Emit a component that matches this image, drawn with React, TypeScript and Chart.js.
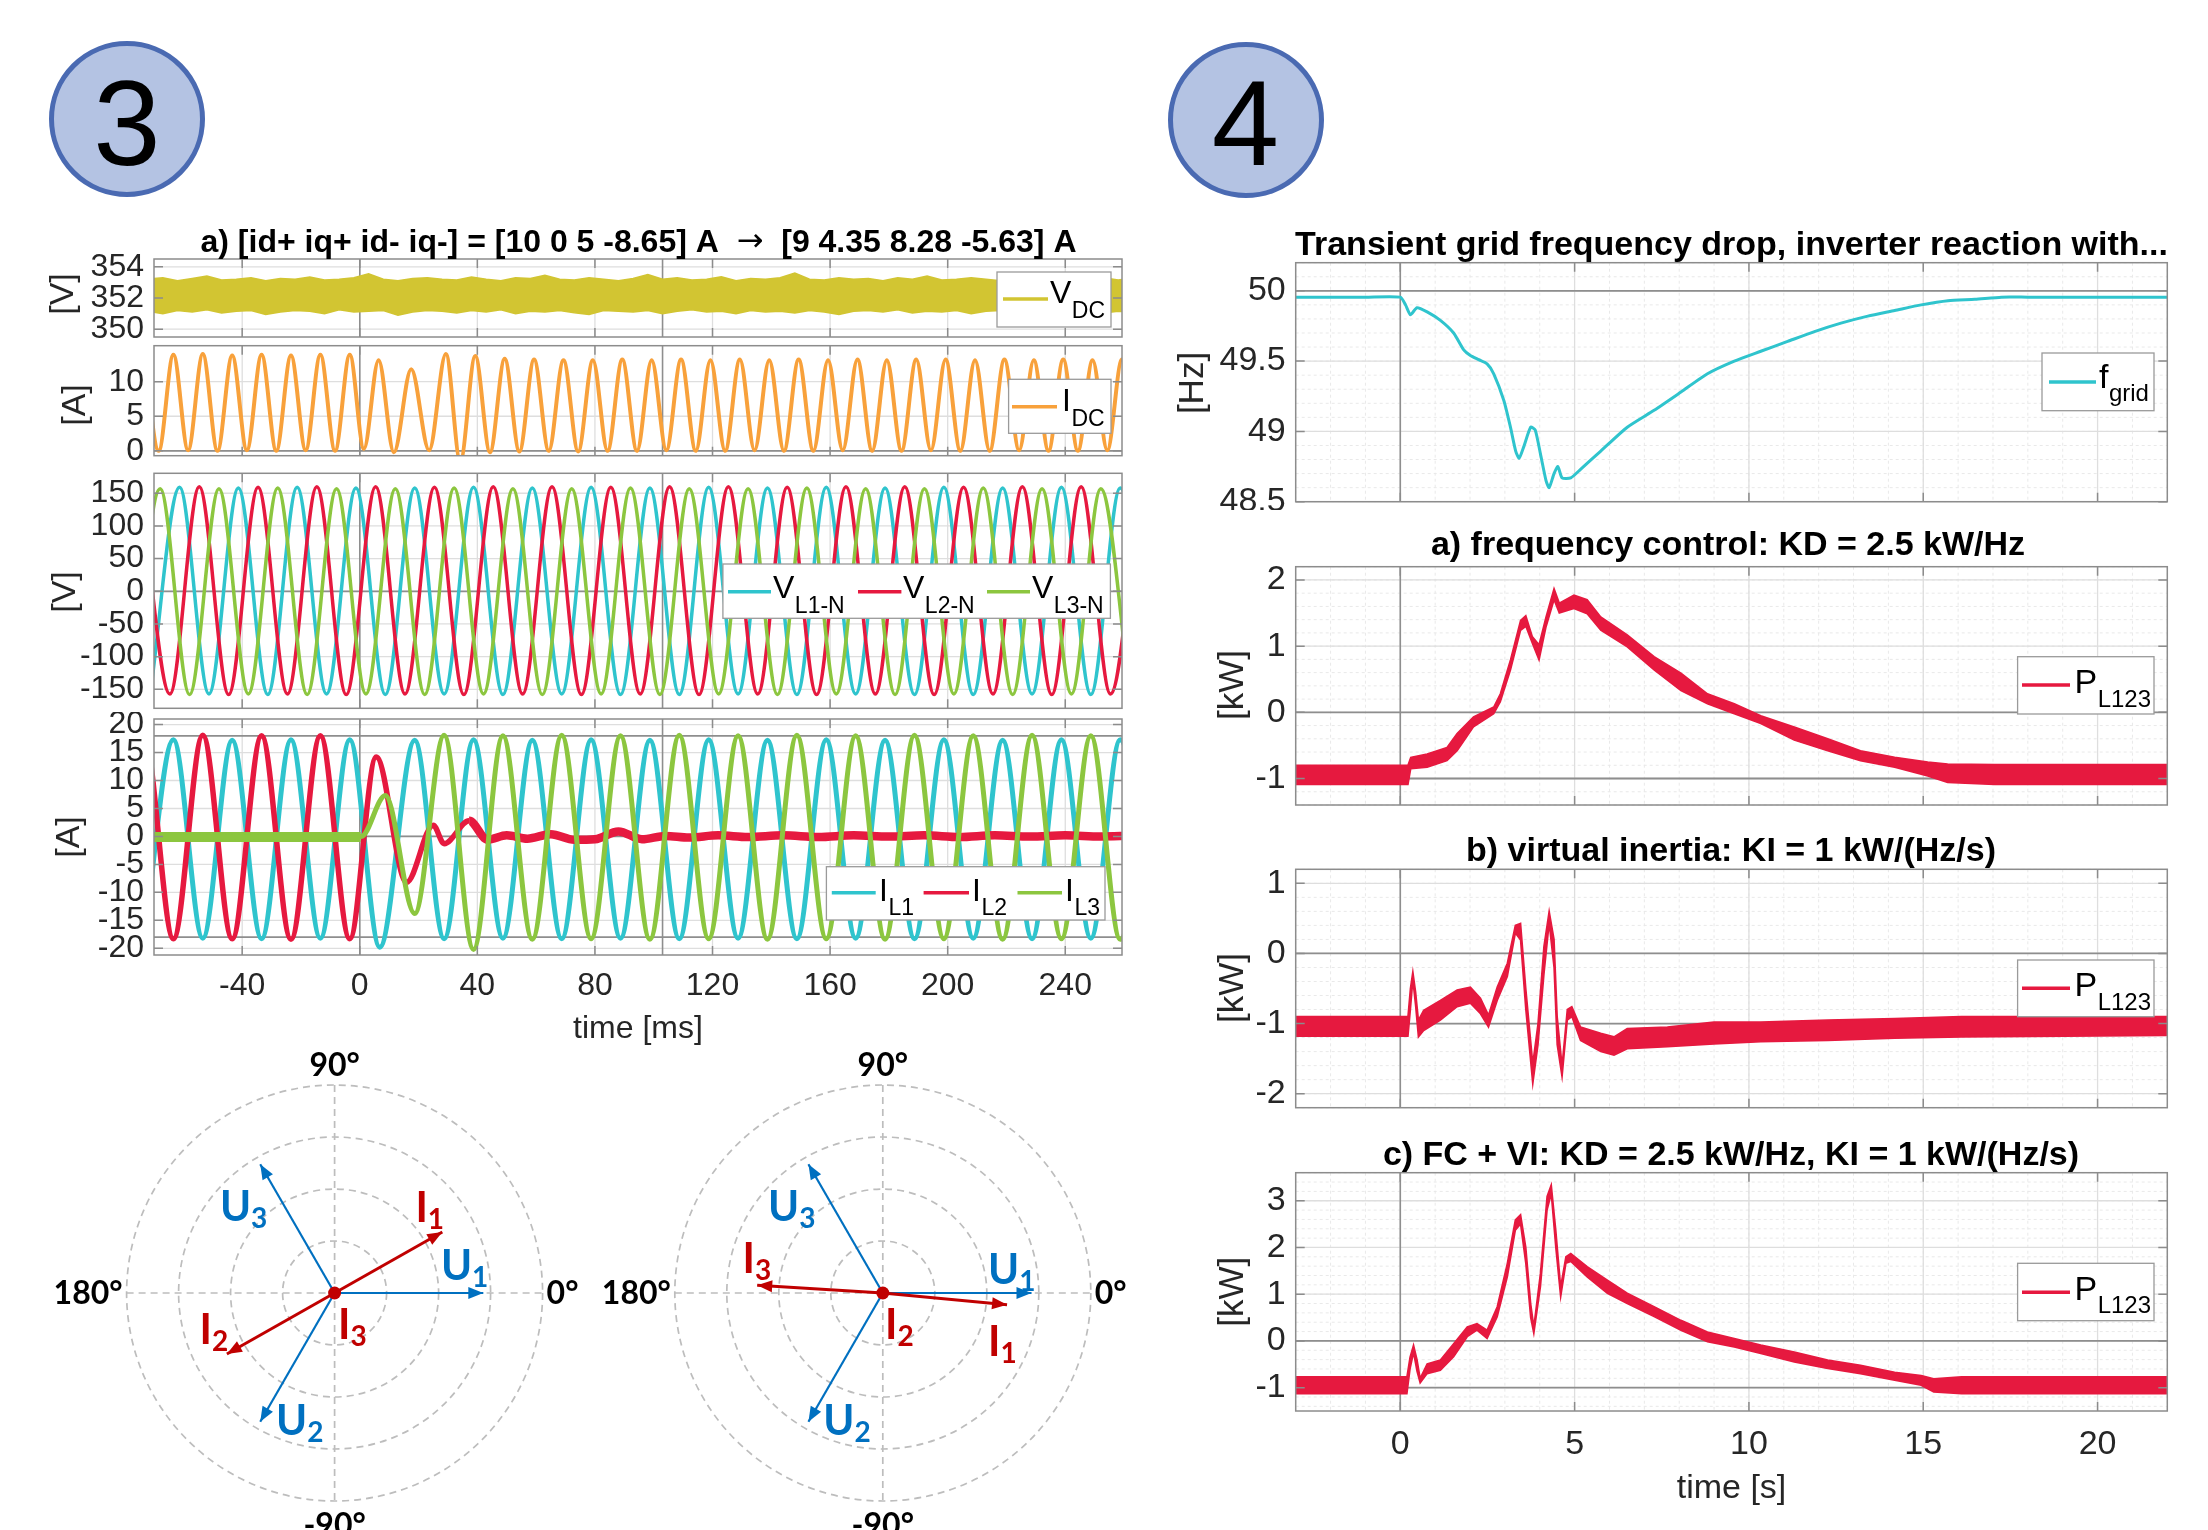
import React, { useEffect, useRef } from "react";
import { Chart, registerables } from "chart.js";

Chart.register(...registerables);

// ---------------- fonts / colours ----------------
const SANS = '"Liberation Sans", Arial, Helvetica, sans-serif';
const ARROW_FONT = '"DejaVu Sans", sans-serif';
const PPT = 'Lato, "Open Sans", "Liberation Sans", sans-serif';
const CYAN = "#2fc4cd";
const RED = "#e6193f";
const GREEN = "#8cc63f";
const OLIVE = "#d2c532";
const ORANGE = "#f8a13b";
const BLUE_U = "#0070c0";
const RED_I = "#c00000";
const TICK_CLR = "#262626";
const BOX_CLR = "#8c8c8c";

// =====================================================================
// DATA — panel 3 (time in ms)
// =====================================================================
const leftTitleParts = ["a) [id+ iq+ id- iq-] = [10 0 5 -8.65] A  ", "\u2192", "  [9 4.35 8.28 -5.63] A"];
const msTicks = [-40, 0, 40, 80, 120, 160, 200, 240];
const vdcTicks = [350, 352, 354];
const idcTicks = [0, 5, 10];
const vTicks = [-150, -100, -50, 0, 50, 100, 150];
const iTicks = [-20, -15, -10, -5, 0, 5, 10, 15, 20];

// V_DC noisy band: upper / lower envelope, sampled every 5 ms from -72 ms
const vdcStartMs = -72;
const vdcStepMs = 5;
const vdcUpper = [
  353.2, 353.3, 353.1, 353.25, 353.4, 353.15, 353.2, 353.3, 353.1, 353.25,
  353.2, 353.35, 353.15, 353.2, 353.3, 353.55, 353.2, 353.1, 353.25, 353.3,
  353.2, 353.15, 353.35, 353.2, 353.1, 353.3, 353.25, 353.45, 353.2, 353.15,
  353.3, 353.2, 353.1, 353.25, 353.5, 353.2, 353.3, 353.15, 353.2, 353.35,
  353.1, 353.25, 353.2, 353.3, 353.6, 353.2, 353.15, 353.3, 353.2, 353.25,
  353.1, 353.3, 353.2, 353.4, 353.15, 353.2, 353.3, 353.2, 353.1, 353.35,
  353.2, 353.25, 353.15, 353.3, 353.2, 353.3, 353.15, 353.25,
];
const vdcLower = [
  351.15, 351.0, 351.2, 351.1, 351.25, 351.05, 351.15, 351.2, 350.95, 351.1,
  351.2, 351.15, 351.0, 351.25, 351.1, 351.15, 351.2, 350.9, 351.1, 351.2,
  351.15, 351.05, 351.2, 351.1, 351.25, 351.0, 351.15, 351.1, 351.2, 351.05,
  350.95, 351.2, 351.15, 351.1, 351.2, 351.0, 351.15, 351.25, 351.1, 351.15,
  351.0, 351.2, 351.1, 351.15, 351.05, 351.2, 351.1, 350.95, 351.15, 351.2,
  351.1, 351.25, 351.05, 351.15, 351.1, 351.2, 351.0, 351.15, 351.2, 351.1,
  351.05, 351.2, 351.15, 351.1, 351.2, 351.05, 351.15, 351.1,
];

// I_DC: extrema (peaks / troughs) of the 100 Hz ripple
const idcTimeMs = [
  -73.4, -68.4, -63.4, -58.4, -53.4, -48.4, -43.4, -38.4, -33.4, -28.4,
  -23.4, -18.4, -13.4, -8.4, -3.4, 1.4, 6.4, 11.6, 17.5, 23.6,
  29.3, 34.2, 39.3, 44.3, 49.3, 54.3, 59.3, 64.3, 69.3, 74.3,
  79.3, 84.3, 89.3, 94.3, 99.3, 104.3, 109.3, 114.3, 119.3, 124.3,
  129.3, 134.3, 139.3, 144.3, 149.3, 154.3, 159.3, 164.3, 169.3, 174.3,
  179.3, 184.3, 189.3, 194.3, 199.3, 204.3, 209.3, 214.3, 219.3, 224.3,
  229.3, 234.3, 239.3, 244.3, 249.3, 254.3, 259.3, 264.3,
];
const idcAmp = [
  14.0, 0.0, 13.9, 0.1, 14.0, 0.0, 13.8, 0.1, 13.9, 0.0,
  13.8, 0.1, 13.9, 0.0, 13.9, 0.3, 13.1, -0.2, 11.8, 0.1,
  14.0, -1.5, 13.7, -0.2, 13.3, -0.1, 13.2, 0.0, 13.1, -0.1,
  13.1, 0.0, 13.2, 0.0, 13.1, 0.1, 13.2, 0.0, 13.1, 0.0,
  13.2, 0.1, 13.1, 0.0, 13.2, 0.0, 13.1, 0.1, 13.2, 0.0,
  13.1, 0.0, 13.2, 0.1, 13.2, 0.0, 13.1, 0.0, 13.2, 0.1,
  13.1, 0.0, 13.2, 0.0, 13.1, 0.1, 13.2, 0.0,
];

// phase voltages: extrema every half period (10 ms)
const halfPeriodMs = 10;
const vL1StartMs = -71.3;
const vL1Ext = [
  -158, 159, -157, 158, -158, 159, -157, 158, -158, 158,
  -157, 159, -158, 158, -157, 159, -158, 158, -158, 159,
  -157, 158, -158, 159, -157, 158, -158, 159, -158, 158,
  -157, 159, -158, 158, -157,
];
const vL2StartMs = -74.6;
const vL2Ext = [
  160, -157, 160, -158, 159, -157, 160, -158, 160, -157,
  159, -158, 160, -157, 160, -158, 159, -157, 160, -158,
  160, -157, 159, -158, 160, -157, 160, -158, 159, -157,
  160, -158, 160, -157, 159,
];
const vL3StartMs = -77.9;
const vL3Ext = [
  -157, 157, -158, 157, -157, 158, -158, 157, -157, 157,
  -158, 158, -157, 157, -158, 157, -157, 158, -158, 157,
  -157, 157, -158, 158, -157, 157, -158, 157, -157, 158,
  -158, 157, -157, 157, -158,
];

// phase currents: extrema
const iL1TimeMs = [
  -73.4, -63.4, -53.4, -43.4, -33.4, -23.4, -13.4, -3.4, 6.8, 18.7,
  28.7, 38.7, 48.7, 58.7, 68.7, 78.7, 88.7, 98.7, 108.7, 118.7,
  128.7, 138.7, 148.7, 158.7, 168.7, 178.7, 188.7, 198.7, 208.7, 218.7,
  228.7, 238.7, 248.7, 258.7, 268.7,
];
const iL1Amp = [
  -18.3, 17.3, -18.2, 17.2, -18.3, 17.3, -18.2, 17.3, -19.8, 17.2,
  -18.3, 17.3, -18.2, 17.2, -18.3, 17.3, -18.2, 17.2, -18.3, 17.3,
  -18.2, 17.2, -18.3, 17.3, -18.2, 17.2, -18.3, 17.3, -18.2, 17.2,
  -18.3, 17.3, -18.2, 17.3, -18.2,
];
const iL2TimeMs = [
  -83.4, -73.4, -63.4, -53.4, -43.4, -33.4, -23.4, -13.4, -3.4, 5.6,
  15.9, 25.0, 28.7, 37.2, 43.5, 50, 57, 65, 73, 80,
  88, 96, 104, 112, 122, 132, 144, 156, 168, 180,
  192, 204, 216, 228, 240, 252, 262,
];
const iL2Amp = [
  -18.3, 18.0, -18.3, 18.1, -18.3, 18.0, -18.4, 18.0, -18.3, 14.2,
  -8.2, 2.0, -1.3, 2.8, -0.6, 0.2, -0.4, 0.4, -0.6, -0.5,
  0.9, -0.5, 0.1, -0.2, 0.2, -0.1, 0.2, -0.1, 0.2, 0.0,
  0.2, -0.1, 0.2, 0.0, 0.2, 0.0, 0.1,
];
// from this time on I_L2 is only a thick noise band around zero
const iL2NoiseFromMs = 37;
const iL3TimeMs = [
  -75, 0.5, 8.7, 18.7, 28.7, 38.7, 48.7, 58.7, 68.7, 78.7,
  88.7, 98.7, 108.7, 118.7, 128.7, 138.7, 148.7, 158.7, 168.7, 178.7,
  188.7, 198.7, 208.7, 218.7, 228.7, 238.7, 248.7, 258.7, 268.7,
];
const iL3Amp = [
  -0.1, 0.0, 7.3, -13.8, 18.1, -20.2, 18.0, -18.4, 18.1, -18.3,
  18.0, -18.4, 18.1, -18.3, 18.0, -18.4, 18.1, -18.3, 18.0, -18.4,
  18.1, -18.3, 18.0, -18.4, 18.1, -18.3, 18.0, -18.4, 18.1,
];
// I_L3 before the step: thick noisy flat band
const iL3PreTimeMs = [-75, 0.3];
const iL3PreAmp = [-0.1, -0.1];

// phasor diagrams (magnitude in ring units, angle in degrees)
const polarRings = [1, 2, 3, 4];
const polarAngleLabels = ["0\u00b0", "90\u00b0", "180\u00b0", "-90\u00b0"];
const phasorNames = ["U1", "U2", "U3", "I1", "I2", "I3"];
const phasorMagBefore = [2.86, 2.86, 2.86, 2.38, 2.38, 0];
const phasorAngBefore = [0, -120, 120, 29.5, -150.5, 0];
const phasorMagAfter = [2.86, 2.86, 2.86, 2.4, 0, 2.42];
const phasorAngAfter = [0, -120, 120, -5.4, 0, 176.5];

// =====================================================================
// DATA — panel 4 (time in s)
// =====================================================================
const rightTitle = "Transient grid frequency drop, inverter reaction with...";
const sTicks = [0, 5, 10, 15, 20];
const fTicks = [48.5, 49, 49.5, 50];
const pTicksA = [-1, 0, 1, 2];
const pTicksB = [-2, -1, 0, 1];
const pTicksC = [-1, 0, 1, 2, 3];

const fTimeS = [
  -3, -1, 0, 0.15, 0.29, 0.48, 0.77, 1.15, 1.53, 1.82,
  2.01, 2.25, 2.49, 2.68, 2.97, 3.16, 3.31, 3.41, 3.54, 3.74,
  3.87, 4.02, 4.18, 4.27, 4.41, 4.52, 4.64, 4.89, 5.17, 5.75,
  6.51, 7.28, 8.05, 8.81, 9.58, 10.34, 11.11, 11.88, 12.64, 13.41,
  14.18, 14.94, 15.71, 16.48, 17.24, 18, 20, 22,
];
const fGridHz = [
  49.955, 49.955, 49.955, 49.9, 49.83, 49.88, 49.85, 49.79, 49.7, 49.58,
  49.54, 49.51, 49.48, 49.41, 49.22, 49.03, 48.86, 48.81, 48.89, 49.03,
  49.01, 48.84, 48.65, 48.6, 48.7, 48.75, 48.67, 48.67, 48.73, 48.86,
  49.03, 49.15, 49.28, 49.41, 49.5, 49.57, 49.64, 49.71, 49.77, 49.82,
  49.86, 49.9, 49.93, 49.94, 49.955, 49.955, 49.955, 49.955,
];

// P_L123 (band: upper / lower envelope)
const pTimeA = [
  -3, 0.22, 0.3, 0.77, 1.34, 1.63, 2.1, 2.68, 2.87, 3.16,
  3.45, 3.6, 3.79, 3.98, 4.18, 4.41, 4.56, 4.98, 5.36, 5.75,
  6.51, 7.28, 8.05, 8.81, 9.58, 10.34, 11.3, 12.26, 13.2, 14.18,
  15.13, 15.7, 17.05, 22,
];
const pHiA = [
  -0.8, -0.8, -0.68, -0.63, -0.53, -0.32, -0.07, 0.08, 0.28, 0.79,
  1.39, 1.46, 1.14, 1.02, 1.44, 1.87, 1.65, 1.77, 1.7, 1.44,
  1.17, 0.84, 0.59, 0.28, 0.13, -0.05, -0.22, -0.4, -0.58, -0.68,
  -0.75, -0.78, -0.79, -0.79,
];
const pLoA = [
  -1.09, -1.09, -0.85, -0.83, -0.73, -0.58, -0.22, -0.02, 0.16, 0.64,
  1.24, 1.3, 1.04, 0.79, 1.29, 1.7, 1.5, 1.57, 1.49, 1.24,
  0.99, 0.64, 0.33, 0.13, -0.02, -0.17, -0.42, -0.58, -0.73, -0.83,
  -0.96, -1.06, -1.09, -1.09,
];

const pTimeB = [
  -3, 0.22, 0.29, 0.36, 0.44, 0.52, 0.67, 1.15, 1.63, 2.01,
  2.3, 2.53, 2.78, 3.07, 3.3, 3.45, 3.6, 3.8, 3.95, 4.12,
  4.27, 4.41, 4.5, 4.64, 4.79, 4.92, 5.17, 5.75, 6.13, 6.51,
  7.66, 9.0, 10.34, 12.26, 14.18, 16.1, 22,
];
const pHiB = [
  -0.9, -0.9, -0.5, -0.26, -0.55, -0.95, -0.81, -0.67, -0.52, -0.48,
  -0.64, -0.88, -0.48, -0.14, 0.4, 0.43, -0.5, -1.57, -1.0, 0.1,
  0.6, 0.2, -0.9, -1.6, -0.8, -0.76, -1.05, -1.14, -1.19, -1.07,
  -1.05, -0.98, -0.98, -0.95, -0.93, -0.9, -0.9,
];
const pLoB = [
  -1.18, -1.18, -0.8, -0.38, -0.75, -1.19, -1.1, -0.95, -0.76, -0.71,
  -0.86, -1.05, -0.67, -0.33, 0.29, 0.19, -0.8, -1.86, -1.3, -0.3,
  0.43, -0.2, -1.3, -1.76, -0.95, -0.9, -1.24, -1.4, -1.45, -1.36,
  -1.33, -1.29, -1.26, -1.24, -1.21, -1.19, -1.17,
];

const pTimeC = [
  -3, 0.19, 0.28, 0.38, 0.48, 0.57, 0.77, 1.15, 1.53, 1.92,
  2.2, 2.49, 2.78, 3.07, 3.3, 3.45, 3.6, 3.74, 3.83, 4.02,
  4.21, 4.33, 4.46, 4.6, 4.75, 4.89, 5.36, 5.94, 6.51, 7.28,
  8.05, 8.81, 9.58, 10.34, 11.3, 12.26, 13.2, 14.18, 14.94, 15.3,
  16.1, 22,
];
const pHiC = [
  -0.77, -0.77, -0.35, -0.09, -0.4, -0.8, -0.49, -0.41, -0.06, 0.3,
  0.37, 0.23, 0.73, 1.66, 2.59, 2.7, 2.0, 0.8, 0.3, 1.45,
  3.09, 3.34, 2.37, 1.16, 1.8, 1.87, 1.59, 1.3, 1.02, 0.73,
  0.44, 0.19, 0.05, -0.09, -0.24, -0.41, -0.52, -0.67, -0.74, -0.81,
  -0.77, -0.77,
];
const pLoC = [
  -1.13, -1.13, -0.6, -0.25, -0.65, -0.9, -0.7, -0.63, -0.34, 0.09,
  0.23, 0.05, 0.52, 1.37, 2.37, 2.5, 1.66, 0.5, 0.16, 1.16,
  2.8, 3.15, 2.0, 0.94, 1.66, 1.7, 1.37, 1.02, 0.8, 0.52,
  0.23, -0.02, -0.13, -0.27, -0.45, -0.59, -0.7, -0.84, -0.95, -1.09,
  -1.13, -1.13,
];

// =====================================================================
// helpers
// =====================================================================
const zip = (xs: number[], ys: number[]) => xs.map((x, i) => ({ x, y: ys[i] }));
const reg = (t0: number, dt: number, ys: number[]) => ys.map((y, i) => ({ x: t0 + i * dt, y }));
const gridSteps = (a: number, b: number, st: number) => {
  const out: number[] = [];
  for (let v = a; v <= b + 1e-9; v += st) out.push(Math.round(v * 1000) / 1000);
  return out;
};
const lineDs = (data: any[], color: string, width: number, extra: any = {}) => ({
  data,
  borderColor: color,
  backgroundColor: color,
  borderWidth: width,
  pointRadius: 0,
  fill: false,
  clip: 0,
  ...extra,
});
const MONO = { cubicInterpolationMode: "monotone" };

function drawLegend(ctx: any, X: any, Y: any, L: any) {
  const [bx0, by0, bx1, by1] = L.box;
  ctx.save();
  ctx.fillStyle = "#ffffff";
  ctx.fillRect(X(bx0), Y(by0), X(bx1) - X(bx0), by1 - by0);
  ctx.strokeStyle = "#9a9a9a";
  ctx.lineWidth = 1.3;
  ctx.strokeRect(X(bx0), Y(by0), X(bx1) - X(bx0), by1 - by0);
  for (const it of L.items) {
    ctx.strokeStyle = it.color;
    ctx.lineWidth = 3.5;
    ctx.beginPath();
    ctx.moveTo(X(it.x0), Y(L.ly));
    ctx.lineTo(X(it.x1), Y(L.ly));
    ctx.stroke();
    ctx.fillStyle = "#000";
    ctx.textAlign = "left";
    ctx.textBaseline = "alphabetic";
    ctx.font = `${L.mainSize}px ${SANS}`;
    ctx.fillText(it.main, X(it.tx), Y(L.mainBase));
    const w = ctx.measureText(it.main).width;
    ctx.font = `${L.subSize}px ${SANS}`;
    ctx.fillText(it.sub, X(it.tx) + w + 0.5, Y(L.subBase));
  }
  ctx.restore();
}

function matlabPlugin(cfg: any) {
  const X = (px: number) => (px - cfg.rect.x) / cfg.s;
  const Y = (py: number) => py - cfg.rect.y;
  return {
    id: "matlabLook",
    beforeDatasetsDraw(chart: any) {
      const { ctx, chartArea: a, scales } = chart;
      const xs = scales.x;
      const ys = scales.y;
      ctx.save();
      const vline = (v: number, c: string, w: number, d: number[]) => {
        const p = xs.getPixelForValue(v);
        ctx.strokeStyle = c;
        ctx.lineWidth = w;
        ctx.setLineDash(d);
        ctx.beginPath();
        ctx.moveTo(p, a.top);
        ctx.lineTo(p, a.bottom);
        ctx.stroke();
      };
      const hline = (v: number, c: string, w: number, d: number[]) => {
        const p = ys.getPixelForValue(v);
        ctx.strokeStyle = c;
        ctx.lineWidth = w;
        ctx.setLineDash(d);
        ctx.beginPath();
        ctx.moveTo(a.left, p);
        ctx.lineTo(a.right, p);
        ctx.stroke();
      };
      (cfg.xMinor || []).forEach((v: number) => vline(v, "#e9e9e9", 1, [3, 3]));
      (cfg.yMinor || []).forEach((v: number) => hline(v, "#e9e9e9", 1, [3, 3]));
      cfg.xTicks.forEach((v: number) => vline(v, "#dedede", 1.3, []));
      cfg.yTicks.forEach((v: number) => hline(v, "#dedede", 1.3, []));
      (cfg.hRef || []).forEach((v: number) => hline(v, "#8e8e8e", 1.8, []));
      (cfg.vRef || []).forEach((v: number) => vline(v, "#8e8e8e", 1.6, []));
      ctx.restore();
    },
    afterDatasetsDraw(chart: any) {
      const { ctx, chartArea: a, scales } = chart;
      const xs = scales.x;
      const ys = scales.y;
      ctx.save();
      ctx.setLineDash([]);
      ctx.strokeStyle = BOX_CLR;
      ctx.lineWidth = 1.5;
      ctx.strokeRect(a.left, a.top, a.right - a.left, a.bottom - a.top);
      const tl = 9;
      ctx.beginPath();
      for (const v of cfg.xTicks) {
        const p = xs.getPixelForValue(v);
        ctx.moveTo(p, a.bottom);
        ctx.lineTo(p, a.bottom - tl);
        ctx.moveTo(p, a.top);
        ctx.lineTo(p, a.top + tl);
      }
      for (const v of cfg.yTicks) {
        const p = ys.getPixelForValue(v);
        ctx.moveTo(a.left, p);
        ctx.lineTo(a.left + tl / cfg.s, p);
        ctx.moveTo(a.right, p);
        ctx.lineTo(a.right - tl / cfg.s, p);
      }
      ctx.stroke();
      if (cfg.legend) drawLegend(ctx, X, Y, cfg.legend);
      for (const t of cfg.texts || []) {
        ctx.save();
        const mainFont = `${t.bold ? "bold " : ""}${t.size}px ${SANS}`;
        ctx.font = mainFont;
        ctx.fillStyle = t.color || "#000";
        if (t.rotate) {
          ctx.translate(X(t.x), Y(t.y));
          ctx.rotate(-Math.PI / 2);
          ctx.textAlign = "center";
          ctx.textBaseline = "middle";
          ctx.fillText(t.text, 0, 0);
        } else if (t.parts) {
          // title made of parts; the arrow uses a font with a wider glyph
          const fonts = t.parts.map((p: string) =>
            p === "\u2192" ? `${t.size}px ${ARROW_FONT}` : mainFont
          );
          const widths = t.parts.map((p: string, k: number) => {
            ctx.font = fonts[k];
            return ctx.measureText(p).width;
          });
          let cx = X(t.x) - widths.reduce((u: number, v: number) => u + v, 0) / 2;
          ctx.textAlign = "left";
          ctx.textBaseline = "alphabetic";
          t.parts.forEach((p: string, k: number) => {
            ctx.font = fonts[k];
            ctx.fillText(p, cx, Y(t.y) - (p === "\u2192" ? 1 : 0));
            cx += widths[k];
          });
        } else {
          ctx.textAlign = "center";
          ctx.textBaseline = "alphabetic";
          ctx.fillText(t.text, X(t.x), Y(t.y));
        }
        ctx.restore();
      }
      ctx.restore();
    },
  };
}

const zeroScalePadding = (sc: any) => {
  sc.paddingTop = 0;
  sc.paddingBottom = 0;
  sc.paddingLeft = 0;
  sc.paddingRight = 0;
};

function makeMatlabChart(canvas: HTMLCanvasElement, cfg: any) {
  const s = cfg.s;
  const YW = 110;
  const XH = cfg.showX ? 70 : 0;
  const [bl, bt, br, bb] = cfg.box;
  const W = cfg.rect.w / s;
  const tickCb = (v: any) => String(v);
  return new Chart(canvas, {
    type: "line",
    data: { datasets: cfg.datasets },
    options: {
      animation: false,
      responsive: false,
      events: [],
      layout: {
        autoPadding: false,
        padding: {
          left: (bl - cfg.rect.x) / s - YW,
          right: W - (br - cfg.rect.x) / s,
          top: bt - cfg.rect.y,
          bottom: cfg.rect.y + cfg.rect.h - bb - XH,
        },
      },
      scales: {
        x: {
          type: "linear",
          min: cfg.xMin,
          max: cfg.xMax,
          grid: { display: false, drawTicks: false },
          border: { display: false },
          ticks: {
            display: !!cfg.showX,
            font: { family: SANS, size: cfg.tickSize },
            color: TICK_CLR,
            padding: cfg.xPad,
            maxRotation: 0,
            autoSkip: false,
            callback: tickCb,
          },
          afterBuildTicks: (sc: any) => {
            sc.ticks = cfg.xTicks.map((v: number) => ({ value: v }));
          },
          afterFit: (sc: any) => {
            sc.height = XH;
            zeroScalePadding(sc);
          },
        },
        y: {
          type: "linear",
          min: cfg.yMin,
          max: cfg.yMax,
          grid: { display: false, drawTicks: false },
          border: { display: false },
          ticks: {
            font: { family: SANS, size: cfg.tickSize },
            color: TICK_CLR,
            padding: cfg.yPad,
            autoSkip: false,
            callback: tickCb,
          },
          afterBuildTicks: (sc: any) => {
            sc.ticks = cfg.yTicks.map((v: number) => ({ value: v }));
          },
          afterFit: (sc: any) => {
            sc.width = YW;
            zeroScalePadding(sc);
          },
        },
      },
      plugins: { legend: { display: false }, tooltip: { enabled: false }, title: { display: false } },
    } as any,
    plugins: [matlabPlugin(cfg) as any],
  });
}

function polarPlugin(cfg: any) {
  return {
    id: "polarLook",
    beforeDatasetsDraw(chart: any) {
      const { ctx, scales } = chart;
      const x = scales.x;
      const y = scales.y;
      const cx = x.getPixelForValue(0);
      const cy = y.getPixelForValue(0);
      const unit = x.getPixelForValue(1) - cx;
      const R = polarRings[polarRings.length - 1] * unit;
      ctx.save();
      ctx.strokeStyle = "#bdbdbd";
      ctx.lineWidth = 1.7;
      ctx.setLineDash([7, 5]);
      for (const r of polarRings) {
        ctx.beginPath();
        ctx.arc(cx, cy, r * unit, 0, Math.PI * 2);
        ctx.stroke();
      }
      ctx.beginPath();
      ctx.moveTo(cx - R, cy);
      ctx.lineTo(cx + R, cy);
      ctx.moveTo(cx, cy - R);
      ctx.lineTo(cx, cy + R);
      ctx.stroke();
      ctx.setLineDash([]);
      ctx.fillStyle = "#000";
      ctx.font = `bold 32px ${PPT}`;
      ctx.textAlign = "left";
      ctx.textBaseline = "middle";
      ctx.fillText(polarAngleLabels[0], cx + R + 4, cy + 1);
      ctx.textAlign = "right";
      ctx.fillText(polarAngleLabels[2], cx - R - 4, cy + 1);
      ctx.textAlign = "center";
      ctx.textBaseline = "alphabetic";
      ctx.fillText(polarAngleLabels[1], cx, cy - R - 9);
      ctx.textBaseline = "top";
      ctx.fillText(polarAngleLabels[3], cx, cy + R + 9);
      ctx.restore();
    },
    afterDatasetsDraw(chart: any) {
      const { ctx, scales } = chart;
      const x = scales.x;
      const y = scales.y;
      ctx.save();
      chart.data.datasets.forEach((ds: any, i: number) => {
        const meta = chart.getDatasetMeta(i);
        const p0 = meta.data[0];
        const p1 = meta.data[1];
        const dx = p1.x - p0.x;
        const dy = p1.y - p0.y;
        const len = Math.hypot(dx, dy);
        if (len < 2) return;
        const ux = dx / len;
        const uy = dy / len;
        const L = 15;
        const hw = 6;
        ctx.fillStyle = ds.borderColor;
        ctx.beginPath();
        ctx.moveTo(p1.x, p1.y);
        ctx.lineTo(p1.x - ux * L - uy * hw, p1.y - uy * L + ux * hw);
        ctx.lineTo(p1.x - ux * L + uy * hw, p1.y - uy * L - ux * hw);
        ctx.closePath();
        ctx.fill();
      });
      const cx = x.getPixelForValue(0);
      const cy = y.getPixelForValue(0);
      ctx.fillStyle = RED_I;
      ctx.beginPath();
      ctx.arc(cx, cy, 6.5, 0, Math.PI * 2);
      ctx.fill();
      cfg.names.forEach((n: string, i: number) => {
        const lx = x.getPixelForValue(cfg.labelDx[i]);
        const ly = y.getPixelForValue(cfg.labelDy[i]);
        const main = n[0];
        const sub = n.slice(1);
        ctx.font = `bold 42px ${PPT}`;
        const wm = ctx.measureText(main).width;
        ctx.font = `bold 28px ${PPT}`;
        const ws = ctx.measureText(sub).width;
        const left = lx - (wm + ws) / 2;
        ctx.fillStyle = main === "U" ? BLUE_U : RED_I;
        ctx.textAlign = "left";
        ctx.textBaseline = "alphabetic";
        ctx.font = `bold 42px ${PPT}`;
        ctx.fillText(main, left, ly + 15);
        ctx.font = `bold 28px ${PPT}`;
        ctx.fillText(sub, left + wm, ly + 22);
      });
      ctx.restore();
    },
  };
}

function makePolarChart(canvas: HTMLCanvasElement, cfg: any) {
  const datasets = cfg.names.map((n: string, i: number) => {
    const isU = n[0] === "U";
    const th = (cfg.ang[i] * Math.PI) / 180;
    return {
      label: n,
      data: [
        { x: 0, y: 0 },
        { x: cfg.mag[i] * Math.cos(th), y: cfg.mag[i] * Math.sin(th) },
      ],
      showLine: true,
      borderColor: isU ? BLUE_U : RED_I,
      backgroundColor: isU ? BLUE_U : RED_I,
      borderWidth: isU ? 2.2 : 3,
      pointRadius: 0,
      clip: false,
      order: isU ? 1 : 0,
    };
  });
  return new Chart(canvas, {
    type: "scatter",
    data: { datasets },
    options: {
      animation: false,
      responsive: false,
      events: [],
      layout: { autoPadding: false, padding: cfg.padding },
      scales: {
        x: { type: "linear", min: -4, max: 4, display: false },
        y: { type: "linear", min: -4, max: 4, display: false },
      },
      plugins: { legend: { display: false }, tooltip: { enabled: false } },
    } as any,
    plugins: [polarPlugin(cfg) as any],
  });
}

// =====================================================================
// layout of the subplots (page pixels)
// =====================================================================
const STRETCH = 1;
const LB_L = 154;
const LB_R = 1122;
const RB_L = 1295.7;
const RB_R = 2167.3;
const LEFT_RECT_X = 0;
const LEFT_RECT_W = 1152;
const RIGHT_RECT_X = 1148;
const RIGHT_RECT_W = 1056;

function buildMatConfigs() {
  const leftCommon = {
    s: STRETCH, xMin: -70, xMax: 259.3, xTicks: msTicks, vRef: [0, 103],
    tickSize: 32, xPad: 11.8, yPad: 10,
  };
  const rightCommon = {
    s: STRETCH, xMin: -3, xMax: 22, xTicks: sTicks, xMinor: gridSteps(-3, 22, 1), vRef: [0],
    tickSize: 34, xPad: 13.6, yPad: 10,
  };
  const pLegend = (box: number[], ly: number, mb: number, sb: number) => ({
    box, ly, mainBase: mb, subBase: sb, mainSize: 34, subSize: 24,
    items: [{ color: RED, x0: 2022, x1: 2070, tx: 2074.5, main: "P", sub: "L123" }],
  });
  const band = (t: number[], hi: number[], lo: number[], color: string) => [
    lineDs(zip(t, hi), color, 1.6, { fill: "+1", tension: 0 }),
    lineDs(zip(t, lo), color, 1.6, { tension: 0 }),
  ];
  return [
    {
      ...leftCommon,
      rect: { x: LEFT_RECT_X, y: 212, w: LEFT_RECT_W, h: 133 },
      box: [LB_L, 259, LB_R, 337], yMin: 349.5, yMax: 354.5, yTicks: vdcTicks, hRef: [],
      datasets: band(
        vdcUpper.map((_, i) => vdcStartMs + i * vdcStepMs),
        vdcUpper, vdcLower, OLIVE
      ),
      legend: {
        box: [997, 272, 1111, 327], ly: 299, mainBase: 303, subBase: 318, mainSize: 32, subSize: 23,
        items: [{ color: OLIVE, x0: 1003, x1: 1048, tx: 1050, main: "V", sub: "DC" }],
      },
      texts: [
        { parts: leftTitleParts, x: 638.5, y: 252, size: 32, bold: true },
        { text: "[V]", x: 64, y: 294, size: 34, rotate: true, color: TICK_CLR },
      ],
    },
    {
      ...leftCommon,
      rect: { x: LEFT_RECT_X, y: 340, w: LEFT_RECT_W, h: 125 },
      box: [LB_L, 345.7, LB_R, 455.7], yMin: -0.7, yMax: 15.2, yTicks: idcTicks, hRef: [0],
      datasets: [lineDs(zip(idcTimeMs, idcAmp), ORANGE, 4, MONO)],
      legend: {
        box: [1008.6, 379.3, 1111, 433.3], ly: 406.7, mainBase: 411, subBase: 426, mainSize: 32, subSize: 23,
        items: [{ color: ORANGE, x0: 1012, x1: 1057, tx: 1062, main: "I", sub: "DC" }],
      },
      texts: [{ text: "[A]", x: 76, y: 405, size: 34, rotate: true, color: TICK_CLR }],
    },
    {
      ...leftCommon,
      rect: { x: LEFT_RECT_X, y: 466, w: LEFT_RECT_W, h: 250 },
      box: [LB_L, 473.3, LB_R, 708.3], yMin: -179, yMax: 180.5, yTicks: vTicks, hRef: [0],
      datasets: [
        lineDs(reg(vL3StartMs, halfPeriodMs, vL3Ext), GREEN, 3.5, MONO),
        lineDs(reg(vL2StartMs, halfPeriodMs, vL2Ext), RED, 3.5, MONO),
        lineDs(reg(vL1StartMs, halfPeriodMs, vL1Ext), CYAN, 3.5, MONO),
      ],
      legend: {
        box: [722.9, 564, 1110.4, 618.3], ly: 591.7, mainBase: 598, subBase: 612.5, mainSize: 32, subSize: 23,
        items: [
          { color: CYAN, x0: 728, x1: 771, tx: 773, main: "V", sub: "L1-N" },
          { color: RED, x0: 858, x1: 901.4, tx: 903, main: "V", sub: "L2-N" },
          { color: GREEN, x0: 987, x1: 1030, tx: 1032, main: "V", sub: "L3-N" },
        ],
      },
      texts: [{ text: "[V]", x: 66, y: 592, size: 34, rotate: true, color: TICK_CLR }],
    },
    {
      ...leftCommon,
      rect: { x: LEFT_RECT_X, y: 712, w: LEFT_RECT_W, h: 340 },
      box: [LB_L, 719, LB_R, 955], yMin: -21.2, yMax: 21, yTicks: iTicks, hRef: [-18, 0, 18], showX: true,
      datasets: [
        lineDs(zip(iL3TimeMs, iL3Amp), GREEN, 5, MONO),
        lineDs(zip(iL3PreTimeMs, iL3PreAmp), GREEN, 10, { tension: 0 }),
        lineDs(zip(iL2TimeMs, iL2Amp), RED, 5.5, {
          ...MONO,
          segment: { borderWidth: (c: any) => (c.p0.parsed.x >= iL2NoiseFromMs ? 8.5 : 5.5) },
        }),
        lineDs(zip(iL1TimeMs, iL1Amp), CYAN, 5, MONO),
      ],
      legend: {
        box: [826.4, 866.7, 1105, 920], ly: 892.7, mainBase: 901, subBase: 914.5, mainSize: 32, subSize: 23,
        items: [
          { color: CYAN, x0: 831.8, x1: 875.7, tx: 879, main: "I", sub: "L1" },
          { color: RED, x0: 923.6, x1: 969, tx: 972, main: "I", sub: "L2" },
          { color: GREEN, x0: 1017.5, x1: 1062, tx: 1065, main: "I", sub: "L3" },
        ],
      },
      texts: [
        { text: "[A]", x: 70, y: 837, size: 34, rotate: true, color: TICK_CLR },
        { text: "time [ms]", x: 638, y: 1038, size: 32, color: TICK_CLR },
      ],
    },
    {
      ...rightCommon,
      rect: { x: RIGHT_RECT_X, y: 212, w: RIGHT_RECT_W, h: 298 },
      box: [RB_L, 262.7, RB_R, 501.7], yMin: 48.5, yMax: 50.2, yTicks: fTicks,
      yMinor: gridSteps(48.5, 50.2, 0.1), hRef: [50],
      datasets: [lineDs(zip(fTimeS, fGridHz), CYAN, 3, { tension: 0.2 })],
      legend: {
        box: [2042, 353, 2154, 410.7], ly: 382, mainBase: 388, subBase: 401, mainSize: 34, subSize: 24,
        items: [{ color: CYAN, x0: 2049, x1: 2096, tx: 2099, main: "f", sub: "grid" }],
      },
      texts: [
        { text: rightTitle, x: 1731.5, y: 255, size: 34, bold: true },
        { text: "[Hz]", x: 1193, y: 383, size: 35, rotate: true, color: TICK_CLR },
      ],
    },
    {
      ...rightCommon,
      rect: { x: RIGHT_RECT_X, y: 515, w: RIGHT_RECT_W, h: 298 },
      box: [RB_L, 566.7, RB_R, 805], yMin: -1.4, yMax: 2.2, yTicks: pTicksA,
      yMinor: gridSteps(-1.4, 2.2, 0.2), hRef: [0, -1],
      datasets: band(pTimeA, pHiA, pLoA, RED),
      legend: pLegend([2017.6, 656.7, 2154, 714], 685, 693, 706.5),
      texts: [
        { text: "a) frequency control: KD = 2.5 kW/Hz", x: 1728, y: 554.5, size: 34, bold: true },
        { text: "[kW]", x: 1233.5, y: 685, size: 35, rotate: true, color: TICK_CLR },
      ],
    },
    {
      ...rightCommon,
      rect: { x: RIGHT_RECT_X, y: 818, w: RIGHT_RECT_W, h: 298 },
      box: [RB_L, 869.3, RB_R, 1107.7], yMin: -2.2, yMax: 1.2, yTicks: pTicksB,
      yMinor: gridSteps(-2.2, 1.2, 0.2), hRef: [0, -1],
      datasets: band(pTimeB, pHiB, pLoB, RED),
      legend: pLegend([2017.6, 960, 2154, 1016.7], 988.3, 996, 1009.5),
      texts: [
        { text: "b) virtual inertia: KI = 1 kW/(Hz/s)", x: 1731, y: 861, size: 34, bold: true },
        { text: "[kW]", x: 1233.5, y: 988, size: 35, rotate: true, color: TICK_CLR },
      ],
    },
    {
      ...rightCommon,
      rect: { x: RIGHT_RECT_X, y: 1122, w: RIGHT_RECT_W, h: 408 },
      box: [RB_L, 1172.7, RB_R, 1411], yMin: -1.5, yMax: 3.6, yTicks: pTicksC,
      yMinor: gridSteps(-1.4, 3.6, 0.2), hRef: [0, -1], showX: true,
      datasets: band(pTimeC, pHiC, pLoC, RED),
      legend: pLegend([2017.6, 1263.3, 2154, 1320.7], 1292.3, 1299.5, 1313),
      texts: [
        { text: "c) FC + VI: KD = 2.5 kW/Hz, KI = 1 kW/(Hz/s)", x: 1731, y: 1164.5, size: 34, bold: true },
        { text: "[kW]", x: 1233.5, y: 1291.7, size: 35, rotate: true, color: TICK_CLR },
        { text: "time [s]", x: 1731.5, y: 1498, size: 34, color: TICK_CLR },
      ],
    },
  ];
}

// label positions of the phasor names (ring units, relative to centre)
const labelDxBefore = [2.5, -0.67, -1.75, 1.83, -2.32, 0.34];
const labelDyBefore = [0.54, -2.44, 1.68, 1.65, -0.7, -0.6];
const labelDxAfter = [2.48, -0.69, -1.75, 2.3, 0.32, -2.42];
const labelDyAfter = [0.47, -2.44, 1.68, -0.92, -0.6, 0.68];

const POLARS = [
  {
    rect: { x: 30, y: 1040, w: 610, h: 490 },
    padding: { left: 96.6, right: 97.4, top: 45, bottom: 29 },
    names: phasorNames, mag: phasorMagBefore, ang: phasorAngBefore,
    labelDx: labelDxBefore, labelDy: labelDyBefore,
  },
  {
    rect: { x: 590, y: 1040, w: 570, h: 490 },
    padding: { left: 84.8, right: 69.2, top: 45, bottom: 29 },
    names: phasorNames, mag: phasorMagAfter, ang: phasorAngAfter,
    labelDx: labelDxAfter, labelDy: labelDyAfter,
  },
];

const circleStyle = (left: number, top: number): React.CSSProperties => ({
  position: "absolute",
  left,
  top,
  width: 146,
  height: 146,
  borderRadius: "50%",
  background: "#b4c3e3",
  border: "5px solid #4a6ab2",
  display: "flex",
  alignItems: "center",
  justifyContent: "center",
  fontFamily: SANS,
  fontSize: 121,
  lineHeight: 1,
  color: "#000",
});

export default function App() {
  const matRefs = useRef<(HTMLCanvasElement | null)[]>([]);
  const polRefs = useRef<(HTMLCanvasElement | null)[]>([]);
  const matCfgs = useRef<any[]>(buildMatConfigs());

  useEffect(() => {
    const charts: Chart[] = [];
    matCfgs.current.forEach((cfg, i) => {
      const c = matRefs.current[i];
      if (c) charts.push(makeMatlabChart(c, cfg));
    });
    POLARS.forEach((cfg, i) => {
      const c = polRefs.current[i];
      if (c) charts.push(makePolarChart(c, cfg));
    });
    return () => {
      charts.forEach((ch) => ch.destroy());
    };
  }, []);

  return (
    <div
      style={{
        position: "fixed",
        left: 0,
        top: 0,
        width: 2208,
        height: 1530,
        background: "#ffffff",
        overflow: "hidden",
      }}
    >
      <div style={circleStyle(49, 41)}>
        <span style={{ transform: "translateY(4px)" }}>3</span>
      </div>
      <div style={circleStyle(1167.5, 42)}>
        <span style={{ transform: "translateY(3px)" }}>4</span>
      </div>
      {matCfgs.current.map((cfg, i) => (
        <canvas
          key={"m" + i}
          ref={(el) => {
            matRefs.current[i] = el;
          }}
          width={Math.round(cfg.rect.w / cfg.s)}
          height={cfg.rect.h}
          style={{
            position: "absolute",
            left: cfg.rect.x,
            top: cfg.rect.y,
            width: cfg.rect.w,
            height: cfg.rect.h,
          }}
        />
      ))}
      {POLARS.map((cfg, i) => (
        <canvas
          key={"p" + i}
          ref={(el) => {
            polRefs.current[i] = el;
          }}
          width={cfg.rect.w}
          height={cfg.rect.h}
          style={{
            position: "absolute",
            left: cfg.rect.x,
            top: cfg.rect.y,
            width: cfg.rect.w,
            height: cfg.rect.h,
          }}
        />
      ))}
    </div>
  );
}
